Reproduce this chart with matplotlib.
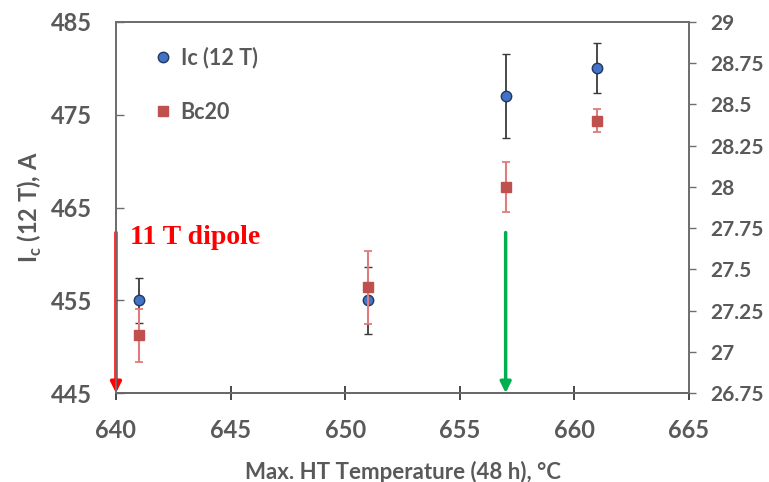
import matplotlib.pyplot as plt
from matplotlib.lines import Line2D

# heat treatment temperatures, degC
ht_temp = [641, 651, 657, 661]
# critical current at 12 T, A
ic_12t = [455.0, 455.0, 477.0, 480.0]
ic_err = [2.4, 3.6, 4.5, 2.7]
# upper critical field Bc20, T
bc20 = [27.10, 27.39, 28.00, 28.40]
bc20_err = [0.16, 0.22, 0.15, 0.07]

# arrows marking magnet HT temperatures
dipole_temp = 640
green_temp = 657
arrow_top = 462.3

GREY = '#595959'
plt.rcParams['font.family'] = ['Lato', 'DejaVu Sans']
plt.rcParams['font.weight'] = 'bold'

fig = plt.figure(figsize=(7.69, 4.82), dpi=100)
ax = fig.add_axes([0.1508, 0.1846, 0.7452, 0.7698])
ax2 = ax.twinx()

ax.errorbar(ht_temp, ic_12t, yerr=ic_err, fmt='o', ms=7.5, mfc='#4472C4', mec='#1F3864',
            mew=1.0, ecolor='#3a3a3a', elinewidth=1.3, capsize=3, capthick=1.3, zorder=4)
ax2.errorbar(ht_temp, bc20, yerr=bc20_err, fmt='s', ms=7.5, mfc='#C0504D', mec='#C0504D',
             ecolor='#E07C7C', elinewidth=1.5, capsize=3, capthick=1.3, zorder=3)

ax.annotate('', xy=(dipole_temp, 445), xytext=(dipole_temp, arrow_top),
            arrowprops=dict(arrowstyle='-|>', color='#FF0000', lw=2.5, mutation_scale=16,
                            shrinkA=0, shrinkB=0), zorder=5, annotation_clip=False)
ax.annotate('', xy=(green_temp, 445), xytext=(green_temp, arrow_top),
            arrowprops=dict(arrowstyle='-|>', color='#00B050', lw=2.5, mutation_scale=16,
                            shrinkA=0, shrinkB=0), zorder=5)
ax.text(640.6, 461.8, '11 T dipole', color='#FF0000', fontsize=20, fontweight='bold',
        family=['Liberation Serif', 'DejaVu Serif'], va='center', ha='left')

ax.set_xlim(640, 665)
ax.set_ylim(445, 485)
ax2.set_ylim(26.75, 29)
ax.set_xticks(range(640, 666, 5))
ax.set_yticks(range(445, 486, 10))
ax2.set_yticks([26.75 + 0.25 * i for i in range(10)])
ax2.set_yticklabels(['26.75', '27', '27.25', '27.5', '27.75', '28',
                     '28.25', '28.5', '28.75', '29'])

for a in (ax, ax2):
    for s in a.spines.values():
        s.set_color('#6e6e6e')
        s.set_linewidth(1.3)
ax.spines['bottom'].set_color('#2a2a2a')
ax.tick_params(axis='x', direction='inout', length=10, width=1.2, color='#2a2a2a',
               labelsize=17, labelcolor=GREY, pad=14)
ax.tick_params(axis='y', direction='in', length=6, width=1.0, color='#6e6e6e',
               labelsize=17, labelcolor=GREY, pad=17)
ax2.tick_params(axis='y', direction='out', length=5, width=1.0, color='#6e6e6e',
                labelsize=15, labelcolor=GREY, pad=10)

ax.set_xlabel('Max. HT Temperature (48 h), °C', fontsize=16, fontweight='bold',
              color=GREY, labelpad=13)
ax.set_ylabel('I$_\\mathregular{c}$ (12 T), A', fontsize=17, fontweight='bold',
              color=GREY, labelpad=5)

handles = [
    Line2D([], [], ls='', marker='o', ms=7.5, mfc='#4472C4', mec='#1F3864', label='Ic (12 T)'),
    Line2D([], [], ls='', marker='s', ms=7, mfc='#C0504D', mec='#C0504D', label='Bc20'),
]
leg = ax.legend(handles=handles, loc='upper left', bbox_to_anchor=(0.03, 0.985), frameon=False,
                fontsize=15.5, labelspacing=1.55, handletextpad=0.3, handlelength=1.0,
                labelcolor=GREY)

fig.savefig('out.png', dpi=100)
